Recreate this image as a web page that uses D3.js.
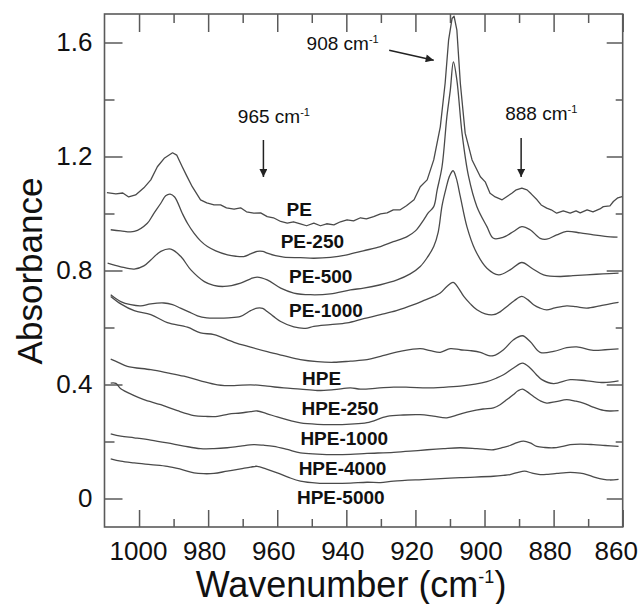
<!DOCTYPE html>
<html>
<head>
<meta charset="utf-8">
<script src="https://cdn.jsdelivr.net/npm/d3@7"></script>
<style>
  html, body { margin: 0; padding: 0; background: #fff; }
  svg { display: block; }
  text { font-family: "Liberation Sans", Arial, Helvetica, sans-serif; fill: #111; }
</style>
</head>
<body>
<svg id="chart" width="642" height="604"></svg>
<script>
// ---------------- DATA ----------------
const xMajorTicks = [1000, 980, 960, 940, 920, 900, 880, 860];
const xMinorTicks = [990, 970, 950, 930, 910, 890, 870];
const yMajorTicks = [0, 0.4, 0.8, 1.2, 1.6];
const yMinorTicks = [0.2, 0.6, 1.0, 1.4];

const seriesNames = ["PE", "PE-250", "PE-500", "PE-1000", "", "HPE", "HPE-250", "HPE-1000", "HPE-4000"];

const pe = [[1009.3,1.073],[1006.7,1.069],[1004.7,1.072],[1003.0,1.058],[1001.0,1.065],[998.6,1.090],[996.6,1.118],[994.7,1.164],[992.6,1.195],[990.3,1.213],[989.1,1.205],[987.5,1.164],[986.2,1.132],[984.6,1.094],[982.2,1.048],[980.4,1.037],[978.3,1.030],[976.4,1.030],[974.7,1.020],[972.5,1.015],[970.6,1.020],[968.9,1.006],[966.8,1.001],[964.8,1.002],[962.9,0.989],[961.1,0.985],[959.0,0.972],[957.1,0.966],[955.3,0.971],[953.3,0.964],[951.5,0.957],[949.4,0.966],[947.5,0.957],[945.7,0.964],[943.6,0.960],[941.7,0.971],[939.8,0.978],[937.9,0.974],[935.9,0.985],[934.2,0.981],[932.1,0.989],[930.1,0.999],[928.2,1.002],[926.4,1.013],[924.4,1.013],[922.6,1.027],[920.4,1.048],[918.6,1.094],[916.6,1.118],[914.7,1.188],[912.8,1.304],[911.4,1.457],[910.4,1.608],[909.4,1.684],[908.8,1.692],[908.0,1.643],[907.0,1.457],[905.6,1.282],[903.6,1.188],[901.2,1.129],[899.8,1.111],[898.4,1.071],[896.9,1.058],[894.9,1.048],[893.7,1.058],[892.1,1.071],[890.8,1.083],[889.2,1.089],[887.7,1.083],[886.5,1.069],[884.8,1.048],[883.6,1.030],[882.0,1.019],[880.7,1.013],[879.1,1.001],[877.2,1.009],[875.2,1.001],[873.5,1.009],[872.3,1.002],[870.3,1.013],[868.6,1.006],[866.6,1.016],[865.6,1.024],[863.7,1.027],[862.7,1.042],[861.4,1.055],[860.2,1.059]];

const pe250 = [[1008.2,0.943],[1005.3,0.939],[1001.4,0.937],[997.6,0.966],[995.8,0.999],[993.7,1.036],[992.3,1.062],[991.0,1.068],[989.7,1.058],[987.5,1.001],[985.9,0.964],[984.1,0.931],[982.2,0.904],[980.2,0.884],[977.8,0.869],[974.4,0.855],[972.0,0.850],[969.7,0.849],[967.7,0.858],[965.8,0.867],[964.2,0.867],[962.9,0.861],[960.5,0.852],[958.1,0.847],[953.3,0.845],[949.4,0.843],[944.6,0.846],[939.8,0.855],[935.1,0.869],[930.1,0.884],[926.4,0.901],[922.4,0.919],[920.0,0.939],[917.6,0.978],[916.3,1.002],[914.7,1.024],[913.7,1.083],[912.3,1.164],[910.9,1.339],[909.9,1.433],[909.0,1.532],[908.0,1.468],[906.5,1.281],[904.6,1.129],[902.2,1.024],[899.3,0.954],[897.4,0.913],[894.5,0.917],[891.6,0.937],[889.2,0.954],[886.8,0.943],[883.9,0.913],[882.0,0.910],[879.1,0.925],[876.2,0.937],[872.3,0.932],[868.5,0.925],[865.1,0.920],[861.5,0.917]];

const pe500 = [[1009.1,0.826],[1005.3,0.813],[1001.4,0.805],[998.6,0.816],[996.6,0.837],[993.7,0.867],[990.8,0.875],[987.9,0.849],[985.0,0.802],[981.1,0.761],[978.4,0.748],[975.4,0.744],[970.6,0.756],[967.7,0.771],[965.8,0.777],[962.9,0.767],[959.0,0.738],[955.2,0.721],[950.4,0.715],[944.6,0.718],[938.8,0.732],[935.0,0.738],[930.1,0.750],[925.3,0.767],[921.5,0.788],[918.6,0.814],[916.6,0.845],[914.7,0.884],[913.4,0.935],[912.3,1.027],[911.1,1.090],[910.1,1.132],[909.1,1.150],[908.2,1.125],[907.0,1.059],[905.1,0.954],[902.7,0.872],[899.3,0.808],[895.9,0.785],[892.6,0.802],[889.2,0.828],[886.3,0.808],[882.9,0.785],[878.1,0.779],[874.4,0.782],[870.4,0.785],[865.7,0.788],[861.2,0.791]];

const pe1000 = [[1008.2,0.715],[1005.3,0.691],[1002.4,0.680],[999.5,0.676],[996.6,0.683],[992.8,0.686],[990.3,0.680],[988.0,0.668],[985.6,0.655],[983.1,0.641],[980.4,0.634],[977.3,0.633],[974.1,0.634],[970.6,0.639],[967.7,0.659],[965.8,0.668],[964.2,0.667],[962.9,0.656],[961.1,0.639],[959.0,0.621],[955.2,0.602],[951.8,0.597],[949.4,0.604],[944.6,0.610],[939.8,0.616],[935.0,0.631],[930.1,0.645],[925.5,0.659],[920.5,0.680],[917.1,0.697],[914.7,0.709],[912.8,0.721],[910.9,0.744],[909.1,0.758],[907.6,0.739],[906.0,0.709],[904.1,0.683],[902.2,0.662],[899.8,0.648],[897.4,0.645],[895.5,0.655],[893.5,0.674],[891.4,0.694],[889.2,0.709],[887.4,0.697],[885.8,0.680],[883.9,0.668],[882.0,0.662],[879.6,0.669],[876.2,0.676],[873.5,0.673],[870.4,0.668],[866.6,0.676],[863.7,0.683],[861.2,0.688]];

const trace5 = [[1008.2,0.709],[1005.3,0.683],[1001.4,0.659],[996.6,0.645],[991.8,0.617],[986.0,0.601],[982.2,0.581],[978.3,0.575],[972.5,0.548],[967.7,0.531],[962.9,0.515],[958.2,0.501],[953.3,0.487],[948.4,0.480],[943.6,0.478],[938.8,0.482],[934.0,0.487],[930.1,0.499],[924.4,0.516],[918.6,0.526],[915.7,0.519],[912.8,0.513],[909.9,0.526],[907.0,0.522],[904.2,0.519],[901.2,0.513],[899.2,0.503],[897.4,0.501],[894.5,0.522],[891.6,0.557],[889.0,0.571],[886.8,0.551],[883.9,0.513],[880.0,0.516],[876.2,0.529],[873.3,0.532],[868.5,0.520],[865.1,0.522],[861.2,0.525]];

const hpe = [[1008.2,0.489],[1005.9,0.477],[1003.4,0.464],[996.6,0.452],[991.8,0.441],[987.0,0.429],[982.2,0.413],[977.3,0.399],[972.5,0.396],[967.7,0.399],[962.9,0.394],[958.1,0.388],[953.3,0.384],[948.4,0.379],[943.6,0.382],[938.8,0.388],[935.9,0.384],[931.1,0.387],[926.3,0.391],[921.5,0.390],[916.6,0.388],[911.9,0.390],[907.0,0.394],[902.7,0.401],[899.3,0.410],[896.6,0.422],[894.5,0.434],[891.6,0.458],[889.0,0.475],[886.8,0.458],[885.1,0.436],[883.4,0.417],[880.0,0.403],[875.2,0.417],[870.4,0.413],[865.5,0.407],[861.2,0.413]];

const hpe250 = [[1008.2,0.405],[1006.7,0.404],[1005.3,0.385],[1001.4,0.361],[998.6,0.347],[993.7,0.329],[988.9,0.308],[984.1,0.291],[980.7,0.288],[977.3,0.288],[974.1,0.296],[970.6,0.300],[967.7,0.305],[965.8,0.307],[963.1,0.298],[960.0,0.286],[956.2,0.273],[953.3,0.265],[948.4,0.260],[943.6,0.259],[938.8,0.261],[934.0,0.266],[928.2,0.288],[923.5,0.293],[918.6,0.294],[914.8,0.289],[910.9,0.283],[907.6,0.294],[904.1,0.306],[900.4,0.314],[897.4,0.318],[895.5,0.329],[893.5,0.347],[891.7,0.364],[890.3,0.378],[889.0,0.384],[887.7,0.375],[885.8,0.358],[883.9,0.343],[882.0,0.335],[879.3,0.340],[876.2,0.347],[873.8,0.342],[871.4,0.335],[868.6,0.321],[865.5,0.309],[863.7,0.307],[861.2,0.308]];

const hpe1000 = [[1008.2,0.227],[1005.3,0.219],[1001.4,0.213],[996.6,0.205],[991.8,0.195],[987.0,0.184],[982.2,0.175],[978.3,0.175],[974.5,0.178],[970.6,0.184],[966.8,0.189],[964.0,0.187],[961.0,0.183],[957.1,0.172],[953.3,0.160],[948.4,0.156],[943.6,0.154],[938.8,0.155],[934.0,0.158],[926.3,0.162],[921.5,0.166],[916.6,0.171],[911.9,0.175],[907.0,0.178],[902.2,0.175],[897.4,0.171],[894.6,0.179],[892.6,0.186],[890.6,0.196],[888.7,0.201],[886.8,0.195],[884.9,0.183],[882.5,0.179],[880.0,0.178],[877.8,0.182],[875.2,0.189],[872.3,0.191],[868.5,0.189],[865.1,0.186],[861.2,0.183]];

const hpe4000 = [[1008.2,0.139],[1005.3,0.131],[1001.4,0.125],[996.6,0.119],[991.8,0.113],[988.0,0.103],[984.1,0.090],[981.3,0.087],[978.3,0.088],[974.5,0.096],[970.6,0.104],[967.7,0.110],[965.8,0.113],[963.1,0.103],[960.0,0.090],[956.7,0.074],[953.3,0.061],[948.4,0.054],[943.6,0.053],[938.8,0.054],[934.0,0.057],[930.1,0.056],[926.3,0.061],[916.6,0.067],[907.0,0.073],[897.4,0.078],[894.6,0.081],[892.6,0.084],[890.5,0.091],[888.4,0.096],[886.2,0.089],[883.9,0.084],[881.6,0.085],[879.1,0.088],[875.2,0.092],[872.3,0.089],[870.4,0.084],[868.0,0.074],[865.5,0.067],[863.7,0.065],[861.2,0.067]];

const seriesData = [pe, pe250, pe500, pe1000, trace5, hpe, hpe250, hpe1000, hpe4000];

// label texts and anchor positions (wavenumber, absorbance of baseline)
const labelTexts = ["PE", "PE-250", "PE-500", "PE-1000", "HPE", "HPE-250", "HPE-1000", "HPE-4000", "HPE-5000"];
const labelWn   = [957.3, 959.0, 956.6, 956.6, 952.8, 953.0, 953.3, 953.8, 954.3];
const labelAbs  = [0.992, 0.878, 0.756, 0.637, 0.399, 0.294, 0.187, 0.084, -0.021];

// annotations: text, text anchor (wn, abs), arrow start/end (wn, abs)
const annTexts = ["965 cm", "908 cm", "888 cm"];
const annWn  = [971.4, 951.5, 894.0];
const annAbs = [1.317, 1.573, 1.328];
const arrowFrom = [[964.0, 1.258], [927.6, 1.573], [889.4, 1.265]];
const arrowTo   = [[964.0, 1.128], [914.7, 1.538], [889.4, 1.128]];

// ---------------- CHART ----------------
const svg = d3.select("#chart");
const L = 104.5, R = 622.7, T = 14, B = 527;
const x = d3.scaleLinear().domain([1010, 860]).range([L, R]);
const y = d3.scaleLinear().domain([-0.1, 1.7]).range([B, T]);

const axisColor = "#5a5a5a";

svg.append("defs").append("marker")
  .attr("id", "ah").attr("viewBox", "0 0 10 10")
  .attr("refX", 10).attr("refY", 5)
  .attr("markerWidth", 9).attr("markerHeight", 8)
  .attr("markerUnits", "userSpaceOnUse")
  .attr("orient", "auto")
  .append("path").attr("d", "M0,0 L10,5 L0,10 Z").attr("fill", "#222");

function styleAxis(g) {
  g.select(".domain").remove();
  g.selectAll(".tick line").attr("stroke", axisColor).attr("stroke-width", 1.5);
  return g;
}

// bottom major with labels
const gxb = svg.append("g").attr("transform", `translate(0,${B})`)
  .call(d3.axisBottom(x).tickValues(xMajorTicks).tickSize(-17).tickPadding(15).tickFormat(d3.format("d")));
styleAxis(gxb);
gxb.selectAll("text").attr("font-size", 26).attr("fill", "#111")
  .attr("dx", d => d === 860 ? -7 : (d === 1000 ? -1 : -4))
  .style("font-family", '"Liberation Sans", Arial, sans-serif');
svg.append("g").attr("transform", `translate(0,${B})`)
  .call(d3.axisBottom(x).tickValues(xMinorTicks).tickSize(-8).tickFormat(""))
  .call(styleAxis);
// top
svg.append("g").attr("transform", `translate(0,${T})`)
  .call(d3.axisTop(x).tickValues(xMajorTicks).tickSize(-18).tickFormat(""))
  .call(styleAxis);
svg.append("g").attr("transform", `translate(0,${T})`)
  .call(d3.axisTop(x).tickValues(xMinorTicks).tickSize(-9).tickFormat(""))
  .call(styleAxis);
// left
const gyl = svg.append("g").attr("transform", `translate(${L},0)`)
  .call(d3.axisLeft(y).tickValues(yMajorTicks).tickSize(-18).tickPadding(12)
    .tickFormat(d => d === 0 ? "0" : d3.format(".1f")(d)));
styleAxis(gyl);
gyl.selectAll("text").attr("font-size", 26).attr("fill", "#111")
  .style("font-family", '"Liberation Sans", Arial, sans-serif');
svg.append("g").attr("transform", `translate(${L},0)`)
  .call(d3.axisLeft(y).tickValues(yMinorTicks).tickSize(-10).tickFormat(""))
  .call(styleAxis);
// right
svg.append("g").attr("transform", `translate(${R},0)`)
  .call(d3.axisRight(y).tickValues(yMajorTicks).tickSize(-16).tickFormat(""))
  .call(styleAxis);
svg.append("g").attr("transform", `translate(${R},0)`)
  .call(d3.axisRight(y).tickValues(yMinorTicks).tickSize(-7).tickFormat(""))
  .call(styleAxis);

// frame
svg.append("rect").attr("x", L).attr("y", T).attr("width", R - L).attr("height", B - T)
  .attr("fill", "none").attr("stroke", axisColor).attr("stroke-width", 1.6);

// curves
const smooth = d3.line().x(d => x(d[0])).y(d => y(d[1])).curve(d3.curveCatmullRom.alpha(0.5));
const jagged = d3.line().x(d => x(d[0])).y(d => y(d[1]));
svg.append("g").selectAll("path").data(seriesData).join("path")
  .attr("d", (d, i) => i === 0 ? jagged(d) : smooth(d))
  .attr("fill", "none").attr("stroke", "#4a4a4a").attr("stroke-width", 1.3)
  .attr("stroke-linejoin", "round");

// labels
svg.append("g").selectAll("text").data(labelTexts).join("text")
  .attr("x", (d, i) => x(labelWn[i])).attr("y", (d, i) => y(labelAbs[i]))
  .attr("font-size", 19).attr("font-weight", "bold").attr("fill", "#222")
  .text(d => d);

// annotations
const ann = svg.append("g").selectAll("text").data(annTexts).join("text")
  .attr("x", (d, i) => x(annWn[i])).attr("y", (d, i) => y(annAbs[i]))
  .attr("font-size", 19).attr("fill", "#222");
ann.append("tspan").text(d => d);
ann.append("tspan").attr("font-size", 11).attr("dy", -7).text("-1");

svg.append("g").selectAll("line").data(arrowFrom).join("line")
  .attr("x1", d => x(d[0])).attr("y1", d => y(d[1]))
  .attr("x2", (d, i) => x(arrowTo[i][0])).attr("y2", (d, i) => y(arrowTo[i][1]))
  .attr("stroke", "#222").attr("stroke-width", 1.5)
  .attr("marker-end", "url(#ah)");

// axis titles
const xt = svg.append("text").attr("x", 351).attr("y", 597)
  .attr("text-anchor", "middle").attr("font-size", 36).attr("fill", "#111");
xt.append("tspan").text("Wavenumber (cm");
xt.append("tspan").attr("font-size", 18).attr("dy", -14).text("-1");
xt.append("tspan").attr("dy", 14).text(")");

svg.append("text").attr("transform", `translate(42,271) rotate(-90)`)
  .attr("text-anchor", "middle").attr("font-size", 35).attr("fill", "#111")
  .text("Absorbance");
</script>
</body>
</html>
